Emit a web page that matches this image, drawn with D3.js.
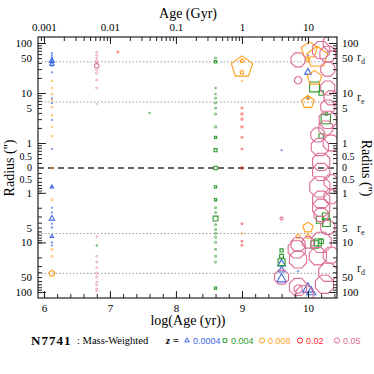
<!DOCTYPE html>
<html>
<head>
<meta charset="utf-8">
<script src="https://cdn.jsdelivr.net/npm/d3@7"></script>
<style>body{margin:0;background:#fff}</style>
</head>
<body>
<div id="chart"></div>
<script>
// each point: [log age (yr), radius in arcsec (negative = other side), mass fraction %]
var z0004 = [
  [6.12, 63, .2], [6.12, 57, .2], [6.12, 52, .2], [6.12, 48, .3], [6.12, 44, 1.8], [6.12, 42, .5],
  [6.12, 38, 1.4], [6.12, 35, .3], [6.12, 26, .2], [6.12, 7.9, .2], [6.12, 6.3, .2], [6.12, 2.9, .2],
  [6.12, 0.76, .2], [6.12, -0.76, .8], [6.12, -2.0, .2], [6.12, -2.5, .2], [6.12, -3.3, 2], [6.12, -4.2, .2],
  [6.12, -5, .3], [6.12, -7.6, .8], [6.12, -10, .3], [6.12, -11.5, .2],
  [9.6, 0.72, .2], [9.6, -27, 4], [9.6, -36, 3], [9.6, -55, 6],
  [9.85, -38, .3], [10.0, -87, 8], [10.05, -100, 6],
  [10.0, 26, 3], [10.0, 7.9, .3], [10.3, 66, .3], [10.0, 57, .3]
];
var z004 = [
  [7.6, 4, .2], [6.8, -11.5, .2],
  [8.6, 50, .3], [8.6, 42, .6], [8.6, 12.6, .2], [8.6, 9.5, .2], [8.6, 7.9, .3], [8.6, 6.3, .3],
  [8.6, 5, .3], [8.6, 3.8, .3], [8.6, 2.1, .4], [8.6, 1.3, .5], [8.6, 0.72, 1], [8.6, 0, 1.3],
  [8.6, -0.76, .5], [8.6, -1.38, .5], [8.6, -2, .3], [8.6, -2.5, .3], [8.6, -3.3, 2.5], [8.6, -4.4, .3],
  [8.6, -5.5, .3], [8.6, -6.6, .3], [8.6, -7.9, .3], [8.6, -10, .3], [8.6, -13.8, .3], [8.6, -19, .3],
  [8.6, -25, .3], [8.6, -83, .5],
  [10.1, 13.2, 10], [10.2, 10, 2], [10.27, 3.0, 9], [10.28, 3.8, .6], [10.2, 1.38, 2],
  [10.18, -3.5, 5], [10.27, -3.0, 5], [10.28, -4.0, 6], [10.15, -10, 5], [10.2, -9.5, 2], [10.1, -11, 6],
  [9.6, -14.5, 1], [9.6, -19, 1.5], [9.6, -25, 5]
];
var z008 = [
  [6.12, 17.4, .2], [6.12, 12.6, .2], [6.12, 9.5, .2], [6.12, 7.2, .2], [6.12, 5.25, .2], [6.12, 3.6, .2],
  [6.12, 2.1, .2], [6.12, 1.38, .2], [6.12, 0, .3], [6.12, -1.38, .3], [6.12, -13.8, .3], [6.12, -19, .3],
  [6.12, -42, 2],
  [9.0, 33, 26], [9.0, 44, .8], [9.0, 26, .8], [9.0, 17.4, .2], [9.0, -6.6, .2],
  [10.02, 72, 15], [10.14, 52, 25], [10.0, 46, 1], [10.1, 20, 12], [10.0, 6.6, 9], [10.0, 8, .8],
  [10.0, -5, 6], [9.85, -7.6, 1], [10.0, -7.6, 1]
];
var z02 = [
  [7.12, 66, .2], [9.0, 5, .2], [9.0, 3.8, .3], [9.0, 3, .3], [9.0, 2.1, .3], [9.0, 1.3, .2],
  [9.0, 0.76, .2], [9.0, 0, .4], [9.0, -4.2, .2], [9.0, -9.5, .2], [9.0, -11.5, .2]
];
var z05 = [
  [6.8, 66, .2], [6.8, 57, .2], [6.8, 50, .2], [6.8, 44, .3], [6.8, 40, .2], [6.8, 35, 1.2],
  [6.8, 29, .3], [6.8, 25, .3], [6.8, 18, .2], [6.8, 12.6, .2], [6.8, 6, .1],
  [6.8, -7.6, .2], [6.8, -19, .2], [6.8, -25, .2], [6.8, -32, .2], [6.8, -42, .3], [6.8, -50, .2],
  [6.8, -63, .2], [6.8, -72, .2], [6.8, -87, .2], [6.8, -95, .2],
  [9.6, -3.3, .5],
  [9.85, 46, 12], [10.2, 72, 18], [10.35, 100, 15], [9.85, 18, 3], [10.3, 60, 15], [10.3, 30, 12],
  [10.3, 12.6, 12], [10.3, 5.25, 12], [10.3, 2.9, 18], [10.27, 2, 12], [10.15, 1.45, 12], [10.18, 0.83, 18],
  [10.2, 0.42, 18], [10.35, 8, 12], [10.35, 1, 15],
  [10.2, -0.38, 18], [10.18, -0.76, 25], [10.2, -1.38, 18], [10.2, -2, 18], [10.2, -2.75, 12],
  [10.35, -0.6, 12], [10.35, -1.2, 12], [10.3, -5, 12],
  [9.85, -11, 12], [9.83, -13.8, 18], [9.85, -22, 18], [10.0, -10, 8], [10.2, -10, 25], [10.15, -19, 18],
  [9.6, -50, 12], [9.85, -79, 18], [9.95, -110, 18], [9.85, -87, 4], [10.3, -40, 20], [10.25, -70, 20],
  [10.35, -18, 15]
];

var series = [z0004, z004, z008, z02, z05];
var metals = ['0.0004', '0.004', '0.008', '0.02', '0.05'];
var colors = ['#4169E1', '#2E9B2E', '#FF9F1C', '#FF1F1F', '#DD6E96'];
var sides = [3, 4, 5, 0, 8];

var rLabels = [100, 50, 10, 5, 1];
var rInner = [0.5];
var ageTicks = [6, 7, 8, 9, 10];
var gyrTicks = [0.001, 0.01, 0.1, 1, 10];
var rd = 42, re = 6.6;

var W = 374, H = 374;
var L = 38, R = 337, T = 37, B = 298, C = 168;
var serif = '"Liberation Serif", "Times New Roman", serif';
var sans = '"Liberation Sans", Arial, sans-serif';

var svg = d3.select('#chart').append('svg').attr('width', W).attr('height', H);

var x = d3.scaleLinear().domain([5.91, 10.44]).range([L, R]);
var xTop = d3.scaleLog().domain([Math.pow(10, 5.91 - 9), Math.pow(10, 10.44 - 9)]).range([L, R]);
var yUp = d3.scaleLog().domain([Math.pow(10, -0.5), Math.pow(10, 2.12)]).range([C, T]);
var yDn = d3.scaleLog().domain([Math.pow(10, -0.5), Math.pow(10, 2.12)]).range([C, B]);
var size = d3.scaleSqrt().domain([0, 30]).range([0, 12]);

function yPos(r) {
  if (r === 0) return C;
  return r > 0 ? yUp(r) : yDn(-r);
}

function marker(n, rad) {
  if (n === 0) {
    var p = d3.path();
    p.moveTo(rad, 0);
    p.arc(0, 0, rad, 0, 2 * Math.PI);
    return p.toString();
  }
  var start = -Math.PI / 2 + (n % 2 === 0 ? Math.PI / n : 0);
  var pts = d3.range(n).map(function(i) {
    var a = start + i * 2 * Math.PI / n;
    return [rad * Math.cos(a), rad * Math.sin(a)];
  });
  return 'M' + pts.map(function(p) { return p[0].toFixed(2) + ',' + p[1].toFixed(2); }).join('L') + 'Z';
}

// minor/major tick values
var minorY = [];
[0.1, 1, 10, 100].forEach(function(d) {
  for (var k = 1; k < 10; k++) { var v = k * d; if (v >= 0.33 && v <= 131) minorY.push(v); }
});
var majorY = [1, 10, 100];
var minorTop = [];
[0.0001, 0.001, 0.01, 0.1, 1, 10].forEach(function(d) {
  for (var k = 1; k < 10; k++) { var v = k * d; if (v > xTop.domain()[0] && v < xTop.domain()[1]) minorTop.push(v); }
});
var minorBot = d3.range(6, 10.41, 0.2);

function styleAxis(g) {
  g.attr('font-family', serif).attr('font-size', 11).attr('color', '#222');
  g.selectAll('.domain').remove();
  g.selectAll('text').attr('fill', '#000');
}

// reference lines
svg.append('line').attr('x1', L).attr('x2', R).attr('y1', C).attr('y2', C)
  .attr('stroke', '#333').attr('stroke-width', 1.3).attr('stroke-dasharray', '6,4');
[yUp(rd), yUp(re), yDn(re), yDn(rd)].forEach(function(yy) {
  svg.append('line').attr('x1', L).attr('x2', R).attr('y1', yy).attr('y2', yy)
    .attr('stroke', '#999').attr('stroke-width', 1).attr('stroke-dasharray', '1.5,2');
});

// markers
svg.append('clipPath').attr('id', 'clip').append('rect')
  .attr('x', L).attr('y', T).attr('width', R - L).attr('height', B - T);
var plot = svg.append('g').attr('clip-path', 'url(#clip)');
series.forEach(function(data, si) {
  plot.append('g').selectAll('path').data(data).enter().append('path')
    .attr('transform', function(d) { return 'translate(' + x(d[0]) + ',' + yPos(d[1]) + ')'; })
    .attr('d', function(d) { return marker(sides[si], size(d[2])); })
    .attr('fill', 'none')
    .attr('stroke', colors[si])
    .attr('stroke-opacity', function(d) { return d[2] < 0.5 ? 0.8 : 1; })
    .attr('stroke-width', function(d) { return d[2] < 0.5 ? 0.8 : 1.1; });
});

// frame
svg.append('rect').attr('x', L).attr('y', T).attr('width', R - L).attr('height', B - T)
  .attr('fill', 'none').attr('stroke', '#222').attr('stroke-width', 1.2);

// y axes, both halves, both sides
[[d3.axisLeft, L, 6], [d3.axisRight, R, 5]].forEach(function(a) {
  var left = a[0] === d3.axisLeft;
  [[yUp, -1], [yDn, 1]].forEach(function(s) {
    var sc = s[0];
    var g = svg.append('g').attr('transform', 'translate(' + a[1] + ',0)');
    g.append('g').call(a[0](sc).tickValues(minorY).tickSize(-4).tickFormat('')).call(styleAxis);
    g.append('g').call(a[0](sc).tickValues(majorY).tickSize(-8).tickFormat('')).call(styleAxis);
    g.append('g').call(a[0](sc).tickValues(rLabels).tickSize(0).tickPadding(a[2]).tickFormat(d3.format(''))).call(styleAxis);
    // the 0.5 labels sit tight against the centre 0, nudge them outward a little
    g.append('g').attr('transform', 'translate(0,' + (s[1] * 1.5) + ')')
      .call(a[0](sc).tickValues(rInner).tickSize(0).tickPadding(a[2]).tickFormat(d3.format('')))
      .call(styleAxis).attr('font-size', 10);
  });
  svg.append('text').attr('x', a[1] + (left ? -6 : 5)).attr('y', C).attr('dy', '0.32em')
    .attr('text-anchor', left ? 'end' : 'start')
    .attr('font-family', serif).attr('font-size', 10).text('0');
});

// x axes
var gb = svg.append('g').attr('transform', 'translate(0,' + B + ')');
gb.append('g').call(d3.axisBottom(x).tickValues(minorBot).tickSize(-4).tickFormat('')).call(styleAxis);
gb.append('g').call(d3.axisBottom(x).tickValues(ageTicks).tickSize(-7).tickPadding(6).tickFormat(d3.format('d'))).call(styleAxis);
var gt = svg.append('g').attr('transform', 'translate(0,' + T + ')');
gt.append('g').call(d3.axisTop(xTop).tickValues(minorTop).tickSize(-4).tickFormat('')).call(styleAxis);
gt.append('g').call(d3.axisTop(xTop).tickValues(gyrTicks).tickSize(-7).tickPadding(6).tickFormat(d3.format(''))).call(styleAxis);

// r_d / r_e labels
[[yUp(rd), 'd'], [yUp(re), 'e'], [yDn(re), 'e'], [yDn(rd), 'd']].forEach(function(l) {
  var t = svg.append('text').attr('x', 357).attr('y', l[0] - 1)
    .attr('font-family', serif).attr('font-size', 12).attr('fill', '#222');
  t.append('tspan').text('r');
  t.append('tspan').attr('dy', 3).attr('font-size', 8).text(l[1]);
});

// titles
svg.append('text').attr('x', 188).attr('y', 18).attr('text-anchor', 'middle')
  .attr('font-family', serif).attr('font-size', 14).text('Age (Gyr)');
svg.append('text').attr('x', 188).attr('y', 325).attr('text-anchor', 'middle')
  .attr('font-family', serif).attr('font-size', 14).text('log(Age (yr))');
svg.append('text').attr('transform', 'translate(14,' + C + ') rotate(-90)').attr('text-anchor', 'middle')
  .attr('font-family', serif).attr('font-size', 14).text("Radius ('')");
svg.append('text').attr('transform', 'translate(362,' + C + ') rotate(90)').attr('text-anchor', 'middle')
  .attr('font-family', serif).attr('font-size', 14).text("Radius ('')");

// legend
var leg = svg.append('g');
leg.append('text').attr('x', 31).attr('y', 345).attr('font-family', serif).attr('font-size', 13)
  .attr('font-weight', 'bold').attr('letter-spacing', 1).text('N7741');
leg.append('text').attr('x', 77).attr('y', 344).attr('font-family', serif).attr('font-size', 10.5)
  .text(': Mass-Weighted');
leg.append('text').attr('x', 166).attr('y', 344).attr('font-family', serif).attr('font-size', 10.5)
  .attr('font-style', 'italic').attr('font-weight', 'bold').text('z =');
var legX = [187, 225, 262, 300, 337];
var legSides = [3, 4, 0, 0, 0];
metals.forEach(function(m, i) {
  leg.append('path').attr('transform', 'translate(' + legX[i] + ',340.5)')
    .attr('d', marker(legSides[i], 2.6)).attr('fill', 'none').attr('stroke', colors[i]).attr('stroke-width', 1);
  leg.append('text').attr('x', legX[i] + 6).attr('y', 344).attr('font-family', sans).attr('font-size', 9)
    .attr('fill', colors[i]).text(m);
});
</script>
</body>
</html>
